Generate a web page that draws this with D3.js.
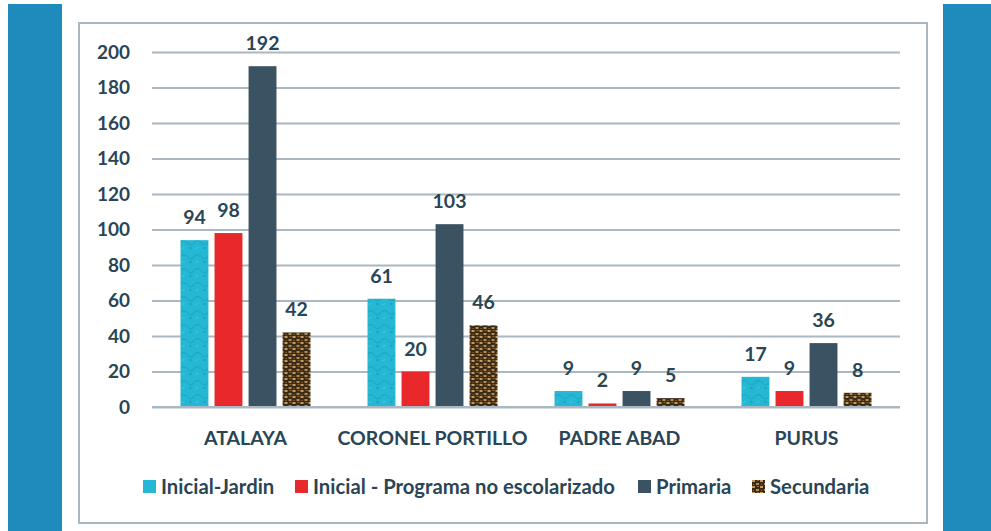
<!DOCTYPE html>
<html><head><meta charset="utf-8">
<script src="https://cdn.jsdelivr.net/npm/d3@7"></script>
<style>html,body{margin:0;padding:0;background:#fff;}svg{display:block;}</style>
</head><body>
<script>
const categories = ["ATALAYA", "CORONEL PORTILLO", "PADRE ABAD", "PURUS"];
const seriesNames = ["Inicial-Jardin", "Inicial - Programa no escolarizado", "Primaria", "Secundaria"];
const inicialJardin = [94, 61, 9, 17];
const inicialPrograma = [98, 20, 2, 9];
const primaria = [192, 103, 9, 36];
const secundaria = [42, 46, 5, 8];
const yTicks = [0, 20, 40, 60, 80, 100, 120, 140, 160, 180, 200];

const seriesValues = [inicialJardin, inicialPrograma, primaria, secundaria];
const W = 991, H = 531;
const textColor = "#2a4555";
const svg = d3.select("body").append("svg").attr("width", W).attr("height", H);

const defs = svg.append("defs");
// cyan texture
const pc = defs.append("pattern").attr("id", "pCyan").attr("patternUnits", "userSpaceOnUse").attr("width", 14).attr("height", 14);
pc.append("rect").attr("width", 14).attr("height", 14).attr("fill", "#24b8d4");
pc.append("path").attr("d", "M0 4 Q4 1 7 5 T14 4").attr("stroke", "#1a9fbb").attr("stroke-width", 1.2).attr("fill", "none").attr("opacity", 0.7);
pc.append("circle").attr("cx", 10).attr("cy", 10).attr("r", 1.2).attr("fill", "#168fa8").attr("opacity", 0.6);
pc.append("path").attr("d", "M1 11 L4 9").attr("stroke", "#5fd0e4").attr("stroke-width", 1).attr("opacity", 0.6);
// brown texture
const pb = defs.append("pattern").attr("id", "pBrown").attr("patternUnits", "userSpaceOnUse").attr("width", 8).attr("height", 6);
pb.append("rect").attr("width", 8).attr("height", 6).attr("fill", "#3a2a18");
pb.append("rect").attr("x", 0).attr("y", 0).attr("width", 3).attr("height", 2).attr("fill", "#c49a5c");
pb.append("rect").attr("x", 4).attr("y", 3).attr("width", 3).attr("height", 2).attr("fill", "#b58b50");
pb.append("rect").attr("x", 5).attr("y", 0).attr("width", 2).attr("height", 1).attr("fill", "#8a6a3c");
pb.append("rect").attr("x", 1).attr("y", 4).attr("width", 1).attr("height", 1).attr("fill", "#9c7a48");

const fills = ["url(#pCyan)", "#e8282a", "#3a5261", "url(#pBrown)"];
const legendFills = ["#24b8d4", "#e8282a", "#3a5261", "url(#pBrown)"];

// side panels
svg.append("rect").attr("x", 8).attr("y", 4).attr("width", 54).attr("height", H - 4).attr("fill", "#1f8bbd");
svg.append("rect").attr("x", 943).attr("y", 4).attr("width", W - 943).attr("height", H - 4).attr("fill", "#1f8bbd");
// chart frame
svg.append("rect").attr("x", 79).attr("y", 23).attr("width", 848).attr("height", 500)
  .attr("fill", "#fff").attr("stroke", "#a9b6bf").attr("stroke-width", 2);

const x0 = d3.scaleBand().domain(categories).range([152, 900]).paddingInner(0.305).paddingOuter(0.1525);
const x1 = d3.scaleBand().domain(d3.range(4)).range([0, x0.bandwidth()]).paddingInner(0.18).paddingOuter(0);
const y = d3.scaleLinear().domain([0, 200]).range([407, 52]);

// gridlines
const yAxis = d3.axisLeft(y).tickValues(yTicks).tickSize(-(900 - 152)).tickPadding(22);
const gy = svg.append("g").attr("transform", "translate(152,0)").call(yAxis);
gy.select(".domain").remove();
gy.selectAll(".tick line").attr("stroke", "#a9b8c2").attr("stroke-width", 2.2);
gy.selectAll(".tick text").attr("fill", textColor).attr("font-family", "Lato, sans-serif")
  .attr("font-weight", "bold").attr("font-size", 19);

// bars
const groups = svg.append("g").selectAll("g").data(categories).join("g")
  .attr("transform", d => `translate(${x0(d)},0)`);
groups.each(function(cat, ci) {
  const g = d3.select(this);
  seriesValues.forEach((vals, si) => {
    const v = vals[ci];
    g.append("rect").attr("x", x1(si)).attr("y", y(v)).attr("width", x1.bandwidth())
      .attr("height", y(0) - y(v)).attr("fill", fills[si]);
    g.append("text").attr("x", x1(si) + x1.bandwidth() / 2).attr("y", y(v) - 16)
      .attr("text-anchor", "middle").attr("fill", textColor).attr("font-family", "Lato, sans-serif")
      .attr("font-weight", "bold").attr("font-size", 19.5).text(v);
  });
});

// baseline
svg.append("line").attr("x1", 152).attr("x2", 900).attr("y1", y(0)).attr("y2", y(0))
  .attr("stroke", "#a9b8c2").attr("stroke-width", 2.2);

// x axis labels
const xAxis = d3.axisBottom(x0).tickSize(0).tickPadding(24);
const gx = svg.append("g").attr("transform", `translate(0,${y(0)})`).call(xAxis);
gx.select(".domain").remove();
gx.selectAll(".tick text").attr("fill", textColor).attr("font-family", "Lato, sans-serif")
  .attr("font-weight", "bold").attr("font-size", 19.5);

// legend
const legendX = [143, 295, 638, 752];
const lg = svg.append("g");
seriesNames.forEach((name, i) => {
  lg.append("rect").attr("x", legendX[i]).attr("y", 480).attr("width", 13).attr("height", 13).attr("fill", legendFills[i]);
  lg.append("text").attr("x", legendX[i] + 18).attr("y", 494).attr("fill", textColor)
    .attr("font-family", "Lato, sans-serif").attr("font-weight", "bold").attr("font-size", 20.3).text(name);
});
</script>
</body></html>
